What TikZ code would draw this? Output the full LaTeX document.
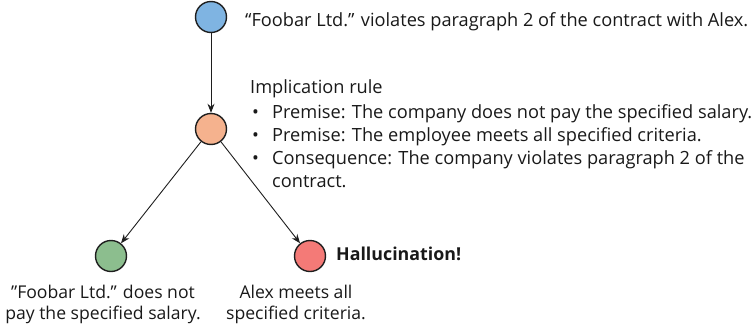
\documentclass[tikz,border=0pt]{standalone}
\usepackage{fontspec}
\setmainfont{Open Sans}
\usetikzlibrary{arrows.meta}
\definecolor{cblue}{HTML}{7FB4E2}
\definecolor{corange}{HTML}{F5B28E}
\definecolor{cgreen}{HTML}{8CBE8E}
\definecolor{cred}{HTML}{F47A77}
\definecolor{cline}{HTML}{1E1E1E}
\tikzset{
  dot/.style={circle, draw=cline, line width=1.4pt, minimum size=31pt, inner sep=0pt},
  link/.style={draw=cline, line width=0.9pt, -{Stealth[length=9pt,width=7pt]}},
  lbl/.style={inner sep=0pt, anchor=base west, font=\fontsize{18.2}{21}\selectfont, text=black!90},
  clbl/.style={inner sep=0pt, anchor=base, align=center, font=\fontsize{17.6}{21}\selectfont, text=black!90},
}
\begin{document}
\begin{tikzpicture}[x=1pt, y=-1pt]
  \useasboundingbox (0,0) rectangle (753,327);
  % the four states of the derivation
  \node[dot, fill=cblue]   (claim) at (211,17)  {};
  \node[dot, fill=corange] (rule)  at (211,129) {};
  \node[dot, fill=cgreen]  (pay)   at (111,256) {};
  \node[dot, fill=cred]    (meets) at (310,256) {};
  % connectors
  \draw[link] (claim) -- (rule);
  \draw[link] (rule) -- (pay);
  \draw[link] (rule) -- (meets);
  % labels
  \node[lbl] (tclaim) at (245,26) {“Foobar Ltd.” violates paragraph 2 of the contract with Alex.};
  \node[lbl] (trule) at (250,93) {Implication rule};
  \node[lbl] (b1) at (252,118) {•};
  \node[lbl] (b2) at (252,141) {•};
  \node[lbl] (b3) at (252,164) {•};
  \node[lbl] (l1) at (272,118) {Premise: The company does not pay the specified salary.};
  \node[lbl] (l2) at (272,141) {Premise: The employee meets all specified criteria.};
  \node[lbl] (l3) at (272,164) {Consequence: The company violates paragraph 2 of the};
  \node[lbl] (l4) at (272,187) {contract.};
  \node[lbl, font=\fontsize{17.8}{21}\selectfont\bfseries] (hall) at (336,260) {Hallucination!};
  % two-line captions: the base anchor sits on the last line
  \node[clbl] (tpay) at (103,319) {”Foobar Ltd.” does not\\pay the specified salary.};
  \node[clbl] (tmeets) at (296,319) {Alex meets all\\specified criteria.};
\end{tikzpicture}
\end{document}
